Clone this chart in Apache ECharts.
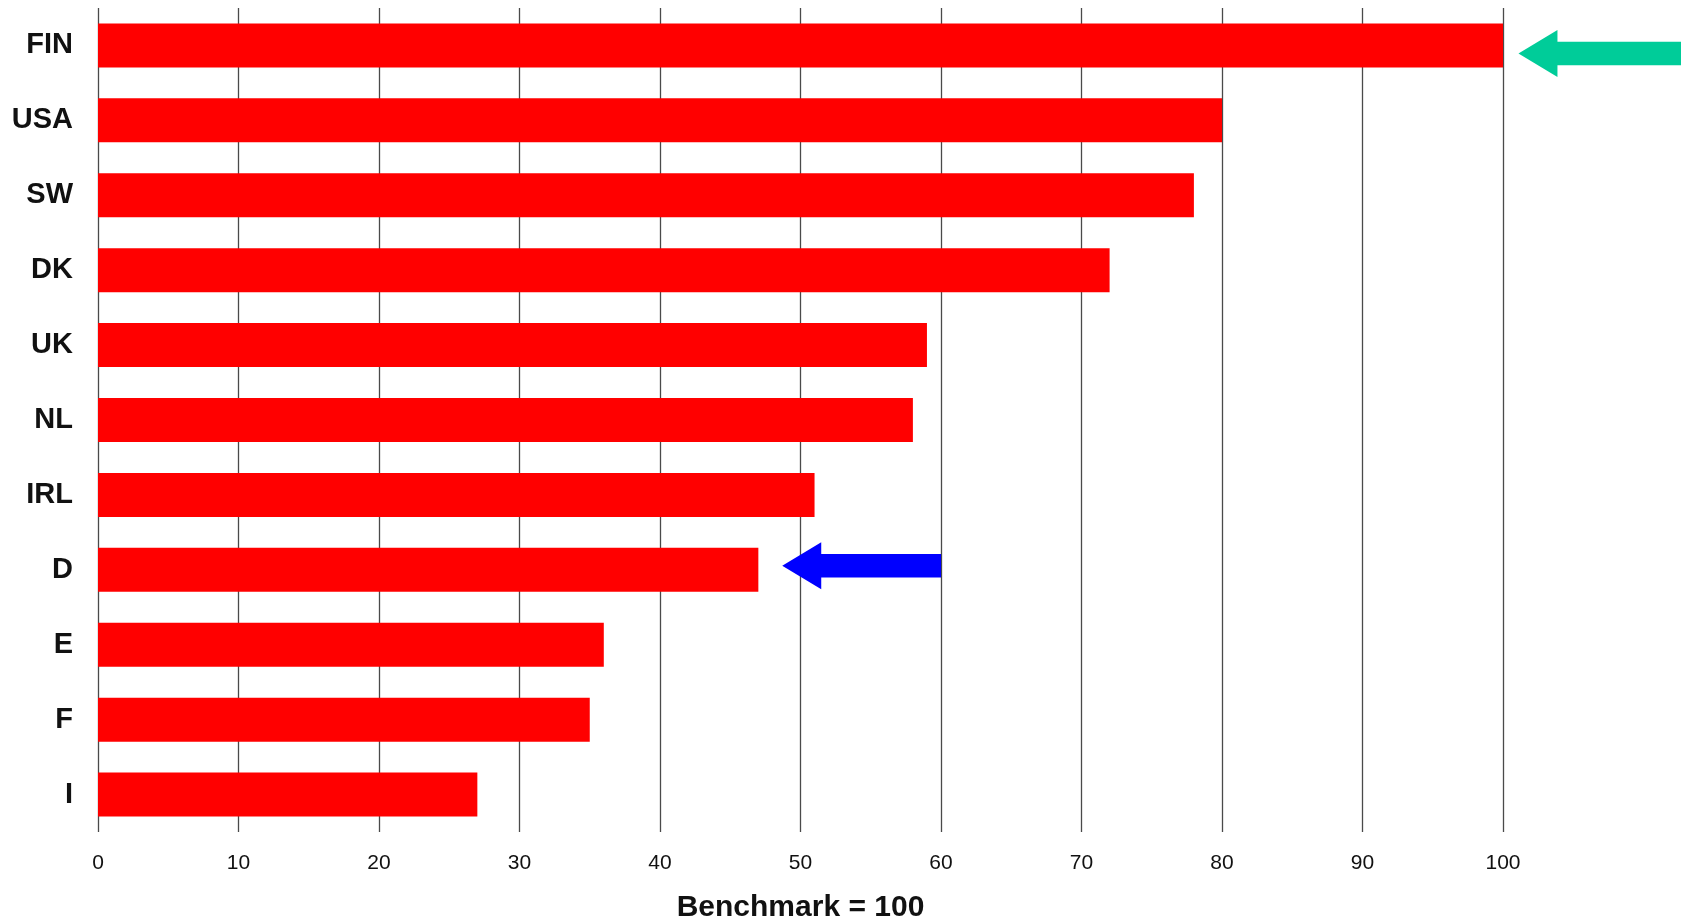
<!DOCTYPE html>
<html>
<head>
<meta charset="utf-8">
<style>
  html, body { margin: 0; padding: 0; background: #fff; }
  #chart { width: 1681px; height: 922px; }
</style>
<script src="https://cdn.jsdelivr.net/npm/echarts@6/dist/echarts.min.js"></script>
</head>
<body>
<div id="chart"></div>
<script>
// Country scores relative to the benchmark (benchmark = 100)
const countries = ['FIN', 'USA', 'SW', 'DK', 'UK', 'NL', 'IRL', 'D', 'E', 'F', 'I'];
const scores = [100, 80, 78, 72, 59, 58, 51, 47, 36, 35, 27];

// Pointer arrows: [tip value, tail value, country]
const arrowGreen = [101.1, 113, 'FIN'];
const arrowBlue = [48.7, 60, 'D'];

const axisTicks = { min: 0, max: 100, interval: 10 };

const arrowColors = ['#00CC99', '#0000FF'];
const arrowNudge = [8, -4];

const chart = echarts.init(document.getElementById('chart'));

chart.setOption({
  animation: false,
  backgroundColor: '#ffffff',
  grid: {
    left: 98, right: 178, top: 8, bottom: 90,
    containLabel: false,
    outerBoundsMode: 'none'
  },
  xAxis: {
    type: 'value',
    min: axisTicks.min,
    max: axisTicks.max,
    interval: axisTicks.interval,
    name: 'Benchmark = 100',
    nameLocation: 'middle',
    nameGap: 61,
    nameTextStyle: {
      fontFamily: 'Liberation Sans, Arial, sans-serif',
      fontSize: 30,
      fontWeight: 'bold',
      color: '#111'
    },
    axisLine: { show: false },
    axisTick: { show: false },
    axisLabel: {
      margin: 21,
      fontFamily: 'Liberation Sans, Arial, sans-serif',
      fontSize: 21,
      color: '#111'
    },
    splitLine: { show: true, lineStyle: { color: '#4a4a4a', width: 1.3 } }
  },
  yAxis: {
    type: 'category',
    data: countries,
    inverse: true,
    axisLine: { show: false },
    axisTick: { show: false },
    splitLine: { show: false },
    axisLabel: {
      margin: 25,
      fontFamily: 'Liberation Sans, Arial, sans-serif',
      fontSize: 29,
      fontWeight: 'bold',
      color: '#111'
    }
  },
  series: [
    {
      type: 'bar',
      data: scores,
      barWidth: 44,
      itemStyle: { color: '#FF0000' },
      z: 2
    },
    {
      type: 'custom',
      coordinateSystem: 'cartesian2d',
      clip: false,
      z: 5,
      encode: { x: [0, 1], y: 2 },
      data: [arrowGreen, arrowBlue],
      renderItem: function (params, api) {
        const tip = api.coord([api.value(0), api.value(2)]);
        const tail = api.coord([api.value(1), api.value(2)]);
        const dy = arrowNudge[params.dataIndex];
        const cy = tip[1] + dy;
        const headLen = 39, headHalf = 23.5, shaftHalf = 11.8;
        const x0 = tip[0], x1 = tip[0] + headLen, x2 = tail[0];
        return {
          type: 'polygon',
          shape: {
            points: [
              [x0, cy],
              [x1, cy - headHalf],
              [x1, cy - shaftHalf],
              [x2, cy - shaftHalf],
              [x2, cy + shaftHalf],
              [x1, cy + shaftHalf],
              [x1, cy + headHalf]
            ]
          },
          style: { fill: arrowColors[params.dataIndex] }
        };
      }
    }
  ]
});
</script>
</body>
</html>
